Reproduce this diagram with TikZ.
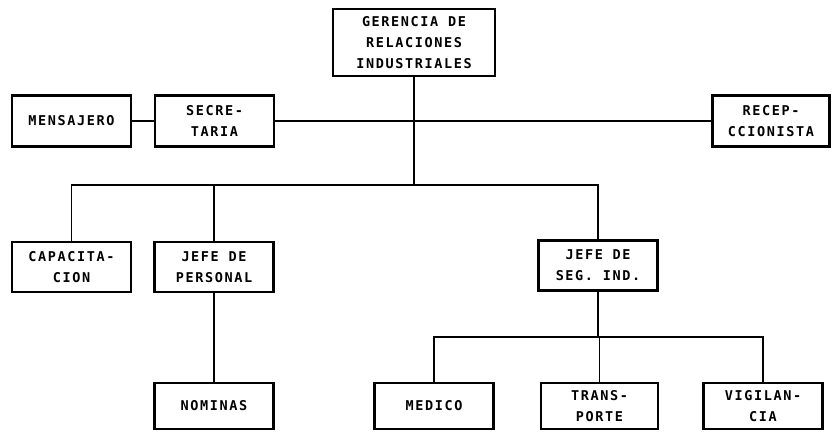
\documentclass[tikz,border=0pt]{standalone}
\usepackage{fontspec}
\setmonofont[LetterSpace=12,BoldFont={DejaVu Sans Mono Bold}]{DejaVu Sans Mono}
\usetikzlibrary{positioning}

\begin{document}
\begin{tikzpicture}[x=1pt,y=-1pt,
      every node/.style={font=\ttfamily\bfseries\fontsize{13.5}{21}\selectfont},
      puesto/.style={draw,line width=2.5pt,align=center,inner sep=0pt,
                     minimum width=119pt,minimum height=51pt},
      linea/.style={line width=1.2pt}
     ]
    \useasboundingbox (0,0) rectangle (832,432);
    \node[puesto,minimum width=162pt,minimum height=67pt] (ger) at (414,42.5)
      {GERENCIA DE\\RELACIONES\\INDUSTRIALES};
    \node[puesto] (men) at (71.5,121) {MENSAJERO};
    \node[puesto] (sec) at (214.5,121) {SECRE-\\TARIA};
    \node[puesto,minimum width=117pt] (rec) at (771,121) {RECEP-\\CCIONISTA};
    \node[puesto,minimum height=50pt] (cap) at (71.5,267) {CAPACITA-\\CION};
    \node[puesto,minimum height=50pt] (per) at (214,267) {JEFE DE\\PERSONAL};
    \node[puesto,minimum height=50pt] (seg) at (598,265.5) {JEFE DE\\SEG. IND.};
    \node[puesto,minimum height=46pt] (nom) at (214,406) {NOMINAS};
    \node[puesto,minimum height=46pt] (med) at (434,406) {MEDICO};
    \node[puesto,minimum height=46pt,minimum width=117pt] (tra) at (599.5,406) {TRANS-\\PORTE};
    \node[puesto,minimum height=46pt] (vig) at (763,406) {VIGILAN-\\CIA};

    \coordinate (bus alto) at (414,185);
    \coordinate (bus bajo) at (598,337);

    \draw[linea] (men) -- (sec);
    \draw[linea] (sec.east) -- (rec.west);
    \draw[linea] (ger.south) -- (bus alto);
    \draw[linea] (cap.north) |- (bus alto) -| (seg.north);
    \draw[linea] (per.north) -- (per.north |- bus alto);
    \draw[linea] (per.south) -- (nom.north);
    \draw[linea] (seg.south) -- (bus bajo);
    \draw[linea] (med.north) |- (bus bajo) -| (vig.north);
    \draw[linea] (tra.north) -- (tra.north |- bus bajo);
\end{tikzpicture}
\end{document}
